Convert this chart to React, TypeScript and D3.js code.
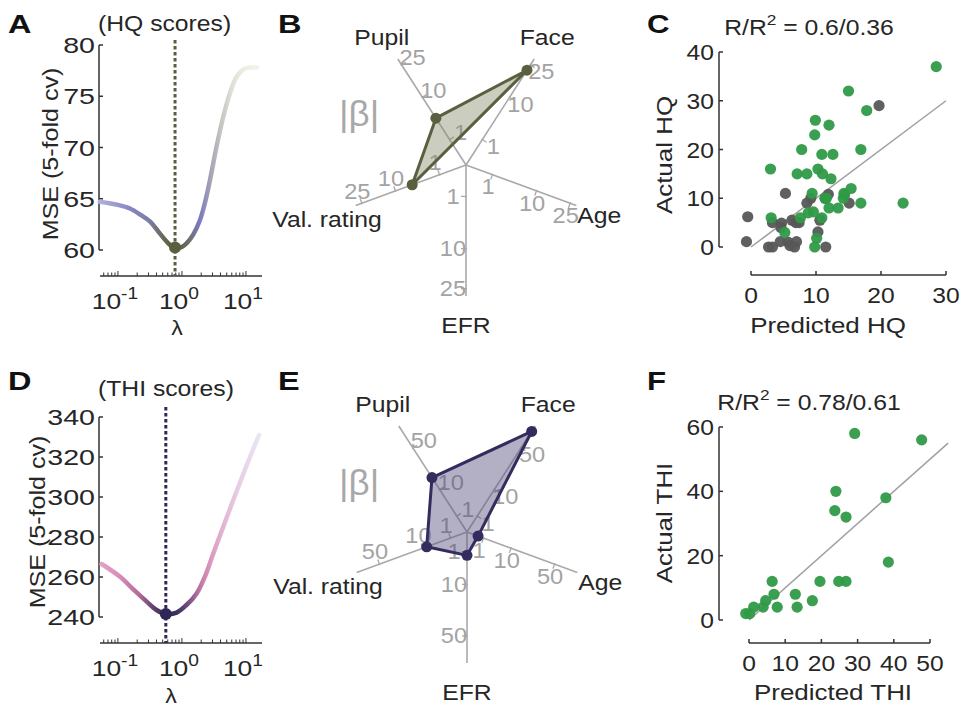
import React from 'react';
import * as d3 from 'd3';

const FONT = '"Liberation Sans", Arial, Helvetica, sans-serif';
const INK = '#262626';
const AXIS = '#333333';

// ---------- Panels A / D : cross-validated MSE vs lambda ----------
const lambdaDomain = [0.0525, 17.8];
const lambdaMajor = [0.1, 1, 10];
const lambdaMajorExp = ['-1', '0', '1'];

const hqLambda = [0.052, 0.1, 0.154, 0.23, 0.316, 0.453, 0.65, 0.78, 1.0, 1.2, 1.5, 1.91, 2.29, 2.74, 3.48, 4.43, 5.62, 7.17, 9.65, 14.7];
const hqMse = [64.7, 64.4, 64.05, 63.4, 62.8, 61.6, 60.5, 60.25, 60.3, 60.7, 61.5, 62.9, 64.6, 66.8, 70.1, 73.0, 75.3, 76.9, 77.7, 77.8];
const hqBestLambda = 0.78;
const hqBestMse = 60.25;
const hqMseTicks = [60, 65, 70, 75, 80];
const hqColorLambda = [0.052, 0.154, 0.316, 0.54, 0.8, 1.2, 1.91, 2.74, 4.2, 6.0, 9.65, 14.9];
const hqColors = ['#b0b0da', '#8686c6', '#7c7ca4', '#66674f', '#5a5e3e', '#6c6c62', '#7b7bc0', '#a2a2b6', '#c8c8c2', '#dfdfd6', '#eeeee3', '#f2f2e8'];

const thiLambda = [0.0556, 0.107, 0.174, 0.281, 0.4, 0.562, 0.826, 1.18, 1.7, 2.29, 3.09, 4.43, 6.34, 9.1, 13.0, 16.1];
const thiMse = [266.5, 260.2, 253.8, 247.7, 243.5, 241.5, 242.2, 246, 251.8, 260.2, 271.8, 285.2, 298.5, 311.5, 324, 331];
const thiBestLambda = 0.56;
const thiBestMse = 241.5;
const thiMseTicks = [240, 260, 280, 300, 320, 340];
const thiColorLambda = [0.052, 0.107, 0.22, 0.353, 0.56, 0.835, 1.2, 1.71, 2.29, 3.05, 5.05, 8.1, 16.5];
const thiColors = ['#e4a4c6', '#d88cb8', '#b06a9a', '#62426f', '#352b57', '#3c3060', '#6a4c80', '#b06c9c', '#d088b0', '#dca0c4', '#e4bcd8', '#e6d0e6', '#ebe6f3'];

// ---------- Panels B / E : radar of |beta| ----------
const radarAxes = ['EFR', 'Age', 'Face', 'Pupil', 'Val. rating'];
const radarAngles = [270, 342, 54, 126, 198];
const hqBeta = [null, null, 22, 4.2, 5.3];
const hqBetaTicks = [1, 10, 25];
const hqBetaMax = 28.6;
const thiBeta = [1.5, 0.39, 76, 18, 8.1];
const thiBetaTicks = [1, 10, 50];
const thiBetaMax = 86;

// ---------- Panels C / F : predicted vs actual ----------
const hqGreenPred = [28.5, 15, 17.8, 9.9, 12, 9.8, 7.8, 16.9, 10.9, 12.6, 3, 7.1, 8.6, 10.3, 11, 12.3, 15.4, 9.4, 14.3, 11.6, 14.2, 16.9, 23.4, 12, 13.4, 7.6, 8.8, 9.6, 10.9, 3.1, 5.2, 10.1, 9.8, 11.4, 14.4];
const hqGreenActual = [37, 32, 28, 26, 25, 23, 20, 20, 19, 19, 16, 15, 15, 16, 15, 14, 12, 11, 11, 10, 10, 9, 9, 8, 8, 6, 7, 7.2, 6, 6, 3, 1.8, 0, 10, 10.7];
const hqGrayPred = [19.7, -0.5, -0.7, 2.7, 3.3, 5.3, 3.3, 4.6, 4.7, 6.3, 6.9, 7.4, 4.5, 5.7, 6.0, 6.7, 7.0, 8.6, 9.2, 11.4, 11.9, 10.6, 10.3, 11.5, 15.1];
const hqGrayActual = [29, 6.2, 1.1, 0, 0, 11, 5, 4, 4.9, 5.5, 5, 5, 1.1, 1, 0.3, 0, 1.1, 9, 10, 10, 10.8, 5.5, 3.1, 0, 9];
const hqFitX = [0, 30];
const hqFitY = [0, 30];
const hqXTicks = [0, 10, 20, 30];
const hqYTicks = [0, 10, 20, 30, 40];

const thiPred = [29.2, 47.7, 24, 23.7, 26.8, 37.8, 38.5, 6.4, 19.6, 24.8, 26.8, 6.9, 12.8, 17.5, 4.6, 7.8, 13.3, 3.9, 1.3, -0.9, 0.2];
const thiActual = [58, 56, 40, 34, 32, 38, 18, 12, 12, 12, 12, 8, 8, 6, 6, 4, 4, 4, 4, 2, 2];
const thiFitX = [0, 55];
const thiFitY = [0, 55];
const thiXTicks = [0, 10, 20, 30, 40, 50];
const thiYTicks = [0, 20, 40, 60];

const GREEN = '#2f9a47';
const GRAY = '#575757';

function T({ x, y, children, size = 21, sx = 1.17, anchor = 'start', rotate = 0, fill = INK, weight = 400 }: any) {
  return (
    <text
      transform={`translate(${x},${y})${rotate ? ` rotate(${rotate})` : ''} scale(${sx},1)`}
      fontSize={size}
      textAnchor={anchor}
      fill={fill}
      fontWeight={weight}
      fontFamily={FONT}
    >
      {children}
    </text>
  );
}

function CvPanel(props: any) {
  const { lambda, mse, colorLambda, colors, bestLambda, bestMse, yTicks, yTop, yBottom, xAxisY, lineColor, gradId,
    title, titleY, ylabelX, ylabelY, lambdaX, lambdaY, yLimTop, letter, letterY } = props;
  const x = d3.scaleLog().domain(lambdaDomain).range([100, 262]);
  const y = d3.scaleLinear().domain([yTicks[0], yTicks[yTicks.length - 1]]).range([yBottom, yTop]);
  const line = d3.line<number>().x((_, i) => x(lambda[i])).y((d) => y(d)).curve(d3.curveCatmullRom.alpha(0.5));
  const x0 = 100, x1 = 262;
  const minor: number[] = [];
  for (let n = -2; n <= 1; n++) for (let k = 1; k <= 9; k++) {
    const v = k * Math.pow(10, n);
    if (v >= lambdaDomain[0] && v <= lambdaDomain[1]) minor.push(v);
  }
  return (
    <g>
      <defs>
        <linearGradient id={gradId} gradientUnits="userSpaceOnUse" x1={x0} x2={x1} y1={0} y2={0}>
          {colorLambda.map((l: number, i: number) => (
            <stop key={i} offset={(x(l) - x0) / (x1 - x0)} stopColor={colors[i]} />
          ))}
        </linearGradient>
      </defs>
      <T x={8} y={letterY} size={26} sx={1.25} weight={700} fill="#111">{letter}</T>
      <T x={98} y={titleY} size={21.5} sx={1.15}>{title}</T>
      {/* y axis */}
      <line x1={99} x2={99} y1={y(yTicks[0])} y2={y(yTicks[yTicks.length - 1])} stroke={AXIS} strokeWidth={1.5} />
      {yTicks.map((t: number) => (
        <g key={t}>
          <line x1={99} x2={103} y1={y(t)} y2={y(t)} stroke={AXIS} strokeWidth={1.5} />
          <T x={95} y={y(t) + 8} anchor="end" size={22} sx={1.3}>{t}</T>
        </g>
      ))}
      <T x={ylabelX} y={ylabelY} rotate={-90} anchor="middle" size={22} sx={1.14}>MSE (5-fold cv)</T>
      {/* x axis */}
      <line x1={x0} x2={x1} y1={xAxisY} y2={xAxisY} stroke={AXIS} strokeWidth={1.5} />
      {minor.map((v, i) => {
        const major = lambdaMajor.some((m) => Math.abs(m - v) < 1e-9);
        return <line key={i} x1={x(v)} x2={x(v)} y1={xAxisY} y2={xAxisY - (major ? 5 : 3.5)} stroke={AXIS} strokeWidth={1} />;
      })}
      {lambdaMajor.map((m, i) => (
        <T key={m} x={x(m) - 3} y={xAxisY + 33} anchor="middle" size={22} sx={1.2}>
          10<tspan dy={-10} fontSize={16}>{lambdaMajorExp[i]}</tspan>
        </T>
      ))}
      <T x={lambdaX} y={lambdaY} anchor="middle" size={21} sx={1.1}>λ</T>
      {/* best lambda */}
      <line x1={x(bestLambda)} x2={x(bestLambda)} y1={y(yLimTop)} y2={xAxisY} stroke={lineColor} strokeWidth={3} strokeDasharray="3.5 2.5" />
      <path d={line(mse) || ''} fill="none" stroke={`url(#${gradId})`} strokeWidth={4.5} strokeLinecap="round" />
      <circle cx={x(bestLambda)} cy={y(bestMse)} r={6} fill={lineColor} />
    </g>
  );
}

function Radar(props: any) {
  const { cx, cy, values, ticks, vmax, fill, stroke, letter, letterY, betaY } = props;
  const rx = 116, ry = 131;
  const r = d3.scalePow().exponent(0.426).domain([0, vmax]).range([0, 1]);
  const pt = (ai: number, v: number) => {
    const a = (radarAngles[ai] * Math.PI) / 180;
    const rr = r(v);
    return [cx + rx * rr * Math.cos(a), cy - ry * rr * Math.sin(a)];
  };
  const dir = (ai: number) => {
    const a = (radarAngles[ai] * Math.PI) / 180;
    const dx = rx * Math.cos(a), dy = -ry * Math.sin(a);
    const len = Math.hypot(dx, dy);
    return [dx / len, dy / len];
  };
  const labelDx = [0, 1, 13, -16, 26];
  const labelDy = [37, 18, -14, -14, 22];
  const labelAnchor = ['middle', 'start', 'middle', 'middle', 'end'];
  const poly = radarAxes.map((_, i) => values[i]).map((v: any, i: number) => (v == null ? null : pt(i, v))).filter((p: any) => p);
  const polyD = d3.line()(poly as [number, number][]) + 'Z';
  return (
    <g>
      <T x={278} y={letterY} size={26} sx={1.25} weight={700} fill="#111">{letter}</T>
      <T x={339} y={betaY} size={35} sx={1.05} fill="#a8a8a8">|β|</T>
      {radarAxes.map((name, i) => {
        const end = pt(i, vmax);
        const [ux, uy] = dir(i);
        const nx = -uy, ny = ux;
        return (
          <g key={name}>
            <line x1={cx} y1={cy} x2={end[0]} y2={end[1]} stroke="#a9a9a9" strokeWidth={1.6} />
            {ticks.map((t: number) => {
              const p = pt(i, t);
              return (
                <g key={t}>
                  <line x1={p[0] - nx} y1={p[1] - ny} x2={p[0] + 5 * nx} y2={p[1] + 5 * ny} stroke="#a9a9a9" strokeWidth={1.3} />
                  <T x={p[0] + 13 * nx} y={p[1] + 13 * ny + 7.5} anchor="middle" size={21.5} sx={1.1} fill="#a3a3a3">{t}</T>
                </g>
              );
            })}
            <T x={end[0] + labelDx[i]} y={end[1] + labelDy[i]} anchor={labelAnchor[i]} size={21.5} sx={1.15}>{name}</T>
          </g>
        );
      })}
      <path d={polyD} fill={fill} fillOpacity={0.45} stroke={stroke} strokeWidth={3} strokeLinejoin="round" />
      {(poly as number[][]).map((p, i) => (
        <circle key={i} cx={p[0]} cy={p[1]} r={5.5} fill={stroke} />
      ))}
    </g>
  );
}

function Scatter(props: any) {
  const { greenX, greenY, grayX, grayY, fitX, fitY, xTicks, yTicks, xRange, yRange, xAxisY, title, titleY,
    ylabel, xlabel, ylabelY, xlabelX, xlabelY, letter, letterY } = props;
  const x = d3.scaleLinear().domain([xTicks[0], xTicks[xTicks.length - 1]]).range(xRange);
  const y = d3.scaleLinear().domain([yTicks[0], yTicks[yTicks.length - 1]]).range(yRange);
  const fit = d3.line<number>().x((d) => x(d)).y((_, i) => y(fitY[i]));
  return (
    <g>
      <T x={647} y={letterY} size={26} sx={1.2} weight={700} fill="#111">{letter}</T>
      <T x={809} y={titleY} anchor="middle" size={21.5} sx={1.15}>
        R/R<tspan dy={-10} fontSize={15}>2</tspan><tspan dy={10}>{` = ${title}`}</tspan>
      </T>
      <line x1={719} x2={719} y1={yRange[0]} y2={yRange[1]} stroke={AXIS} strokeWidth={1.5} />
      {yTicks.map((t: number) => (
        <g key={t}>
          <line x1={719} x2={723} y1={y(t)} y2={y(t)} stroke={AXIS} strokeWidth={1.5} />
          <T x={714} y={y(t) + 8} anchor="end" size={22} sx={1.12}>{t}</T>
        </g>
      ))}
      <line x1={xRange[0]} x2={xRange[1]} y1={xAxisY} y2={xAxisY} stroke={AXIS} strokeWidth={1.5} />
      {xTicks.map((t: number) => (
        <g key={t}>
          <line x1={x(t)} x2={x(t)} y1={xAxisY} y2={xAxisY - 4} stroke={AXIS} strokeWidth={1.5} />
          <T x={x(t)} y={xAxisY + 28} anchor="middle" size={22} sx={1.12}>{t}</T>
        </g>
      ))}
      <T x={672} y={ylabelY} rotate={-90} anchor="middle" size={22} sx={1.18}>{ylabel}</T>
      <T x={xlabelX} y={xlabelY} anchor="middle" size={22} sx={1.18}>{xlabel}</T>
      <path d={fit(fitX) || ''} fill="none" stroke="#a0a0a0" strokeWidth={1.5} />
      {grayX.map((v: number, i: number) => (
        <circle key={'g' + i} cx={x(v)} cy={y(grayY[i])} r={5.6} fill={GRAY} fillOpacity={0.95} />
      ))}
      {greenX.map((v: number, i: number) => (
        <circle key={'c' + i} cx={x(v)} cy={y(greenY[i])} r={5.6} fill={GREEN} fillOpacity={0.95} />
      ))}
    </g>
  );
}

export default function App() {
  return (
    <svg width={961} height={707} viewBox="0 0 961 707" style={{ position: 'absolute', left: 0, top: 0, background: '#fff' }}>
      <rect width={961} height={707} fill="#fff" />
      <CvPanel lambda={hqLambda} mse={hqMse} colorLambda={hqColorLambda} colors={hqColors}
        bestLambda={hqBestLambda} bestMse={hqBestMse} yTicks={hqMseTicks} yTop={45} yBottom={250}
        xAxisY={276} lineColor="#5b5f3f" gradId="gradHQ" title="(HQ scores)" titleY={31}
        ylabelX={58} ylabelY={154} lambdaX={177} lambdaY={335} yLimTop={80.5} letter="A" letterY={33} />
      <CvPanel lambda={thiLambda} mse={thiMse} colorLambda={thiColorLambda} colors={thiColors}
        bestLambda={thiBestLambda} bestMse={thiBestMse} yTicks={thiMseTicks} yTop={417} yBottom={617}
        xAxisY={643} lineColor="#2f2856" gradId="gradTHI" title="(THI scores)" titleY={396}
        ylabelX={45} ylabelY={522} lambdaX={171} lambdaY={703} yLimTop={345} letter="D" letterY={390} />
      <Radar cx={466} cy={165} values={hqBeta} ticks={hqBetaTicks} vmax={hqBetaMax}
        fill="#8c9070" stroke="#5b5f3f" letter="B" letterY={33} betaY={126} />
      <Radar cx={467} cy={532} values={thiBeta} ticks={thiBetaTicks} vmax={thiBetaMax}
        fill="#56507e" stroke="#352b5e" letter="E" letterY={390} betaY={495} />
      <Scatter greenX={hqGreenPred} greenY={hqGreenActual} grayX={hqGrayPred} grayY={hqGrayActual}
        fitX={hqFitX} fitY={hqFitY} xTicks={hqXTicks} yTicks={hqYTicks} xRange={[751, 946]} yRange={[247, 52]}
        xAxisY={275} title="0.6/0.36" titleY={35} ylabel="Actual HQ" xlabel="Predicted HQ"
        ylabelY={155} xlabelX={828} xlabelY={333} letter="C" letterY={33} />
      <Scatter greenX={thiPred} greenY={thiActual} grayX={[]} grayY={[]}
        fitX={thiFitX} fitY={thiFitY} xTicks={thiXTicks} yTicks={thiYTicks} xRange={[749, 930]} yRange={[620, 427]}
        xAxisY={643} title="0.78/0.61" titleY={410} ylabel="Actual THI" xlabel="Predicted THI"
        ylabelY={523} xlabelX={833} xlabelY={700} letter="F" letterY={390} />
    </svg>
  );
}
